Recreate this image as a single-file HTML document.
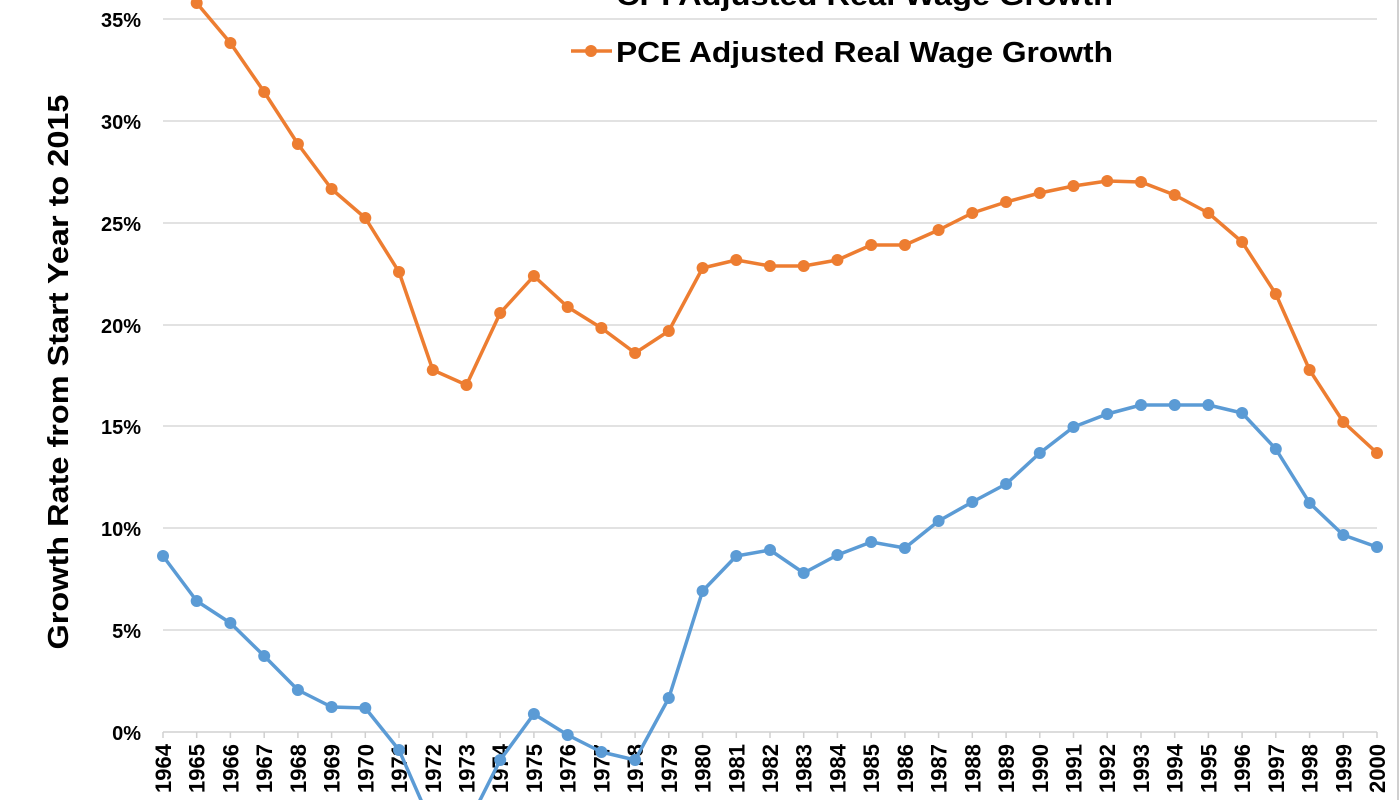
<!DOCTYPE html>
<html><head><meta charset="utf-8"><style>
html,body{margin:0;padding:0;background:#fff;width:1400px;height:800px;overflow:hidden}
text{font-family:"Liberation Sans",Arial,sans-serif;font-weight:bold;fill:#000}
</style></head><body>
<svg width="1400" height="800" viewBox="0 0 1400 800" xmlns="http://www.w3.org/2000/svg">
<rect x="0" y="0" width="1400" height="800" fill="#fff"/>
<line x1="1398" y1="0" x2="1398" y2="800" stroke="#d0d0d0" stroke-width="2"/>
<g stroke="#d9d9d9" stroke-width="1.5">
<line x1="163" y1="19" x2="1377" y2="19"/>
<line x1="163" y1="121" x2="1377" y2="121"/>
<line x1="163" y1="223" x2="1377" y2="223"/>
<line x1="163" y1="325" x2="1377" y2="325"/>
<line x1="163" y1="426" x2="1377" y2="426"/>
<line x1="163" y1="528" x2="1377" y2="528"/>
<line x1="163" y1="630" x2="1377" y2="630"/>
</g>
<g font-size="20" text-anchor="end">
<text x="141" y="27">35%</text>
<text x="141" y="129">30%</text>
<text x="141" y="231">25%</text>
<text x="141" y="333">20%</text>
<text x="141" y="434">15%</text>
<text x="141" y="536">10%</text>
<text x="141" y="638">5%</text>
<text x="141" y="740">0%</text>
</g>
<text transform="translate(68,372) rotate(-90)" font-size="29" text-anchor="middle" textLength="555" lengthAdjust="spacingAndGlyphs">Growth Rate from Start Year to 2015</text>
<line x1="163" y1="732" x2="1377" y2="732" stroke="#d0d0d0" stroke-width="1.5"/>
<g stroke="#d0d0d0" stroke-width="1.5">
<path d="M163 732v6M196.7 732v6M230.4 732v6M264.2 732v6M297.9 732v6M331.6 732v6M365.3 732v6M399 732v6M432.8 732v6M466.5 732v6M500.2 732v6M533.9 732v6M567.7 732v6M601.4 732v6M635.1 732v6M668.8 732v6M702.6 732v6M736.3 732v6M770 732v6M803.7 732v6M837.4 732v6M871.2 732v6M904.9 732v6M938.6 732v6M972.3 732v6M1006.1 732v6M1039.8 732v6M1073.5 732v6M1107.2 732v6M1141 732v6M1174.7 732v6M1208.4 732v6M1242.1 732v6M1275.8 732v6M1309.6 732v6M1343.3 732v6M1377 732v6"/>
</g>
<g font-size="22" text-anchor="end">
<text transform="translate(171,744) rotate(-90)">1964</text>
<text transform="translate(204.7,744) rotate(-90)">1965</text>
<text transform="translate(238.4,744) rotate(-90)">1966</text>
<text transform="translate(272.2,744) rotate(-90)">1967</text>
<text transform="translate(305.9,744) rotate(-90)">1968</text>
<text transform="translate(339.6,744) rotate(-90)">1969</text>
<text transform="translate(373.3,744) rotate(-90)">1970</text>
<text transform="translate(407,744) rotate(-90)">1971</text>
<text transform="translate(440.8,744) rotate(-90)">1972</text>
<text transform="translate(474.5,744) rotate(-90)">1973</text>
<text transform="translate(508.2,744) rotate(-90)">1974</text>
<text transform="translate(541.9,744) rotate(-90)">1975</text>
<text transform="translate(575.7,744) rotate(-90)">1976</text>
<text transform="translate(609.4,744) rotate(-90)">1977</text>
<text transform="translate(643.1,744) rotate(-90)">1978</text>
<text transform="translate(676.8,744) rotate(-90)">1979</text>
<text transform="translate(710.6,744) rotate(-90)">1980</text>
<text transform="translate(744.3,744) rotate(-90)">1981</text>
<text transform="translate(778,744) rotate(-90)">1982</text>
<text transform="translate(811.7,744) rotate(-90)">1983</text>
<text transform="translate(845.4,744) rotate(-90)">1984</text>
<text transform="translate(879.2,744) rotate(-90)">1985</text>
<text transform="translate(912.9,744) rotate(-90)">1986</text>
<text transform="translate(946.6,744) rotate(-90)">1987</text>
<text transform="translate(980.3,744) rotate(-90)">1988</text>
<text transform="translate(1014.1,744) rotate(-90)">1989</text>
<text transform="translate(1047.8,744) rotate(-90)">1990</text>
<text transform="translate(1081.5,744) rotate(-90)">1991</text>
<text transform="translate(1115.2,744) rotate(-90)">1992</text>
<text transform="translate(1149,744) rotate(-90)">1993</text>
<text transform="translate(1182.7,744) rotate(-90)">1994</text>
<text transform="translate(1216.4,744) rotate(-90)">1995</text>
<text transform="translate(1250.1,744) rotate(-90)">1996</text>
<text transform="translate(1283.8,744) rotate(-90)">1997</text>
<text transform="translate(1317.6,744) rotate(-90)">1998</text>
<text transform="translate(1351.3,744) rotate(-90)">1999</text>
<text transform="translate(1385,744) rotate(-90)">2000</text>
</g>
<g id="orange" stroke="#ed7d31" fill="#ed7d31">
<polyline fill="none" stroke-width="3.5" stroke-linejoin="round" points="163,-30 196.7,3 230.4,43 264.2,92 297.9,144 331.6,189 365.3,218 399,272 432.8,370 466.5,385 500.2,313 533.9,276 567.7,307 601.4,328 635.1,353 668.8,331 702.6,268 736.3,260 770,266 803.7,266 837.4,260 871.2,245 904.9,245 938.6,230 972.3,213 1006.1,202 1039.8,193 1073.5,186 1107.2,181 1141,182 1174.7,195 1208.4,213 1242.1,242 1275.8,294 1309.6,370 1343.3,422 1377,453"/>
<g stroke="none">
<circle cx="196.7" cy="3" r="6"/><circle cx="230.4" cy="43" r="6"/><circle cx="264.2" cy="92" r="6"/><circle cx="297.9" cy="144" r="6"/><circle cx="331.6" cy="189" r="6"/><circle cx="365.3" cy="218" r="6"/><circle cx="399" cy="272" r="6"/><circle cx="432.8" cy="370" r="6"/><circle cx="466.5" cy="385" r="6"/><circle cx="500.2" cy="313" r="6"/><circle cx="533.9" cy="276" r="6"/><circle cx="567.7" cy="307" r="6"/><circle cx="601.4" cy="328" r="6"/><circle cx="635.1" cy="353" r="6"/><circle cx="668.8" cy="331" r="6"/><circle cx="702.6" cy="268" r="6"/><circle cx="736.3" cy="260" r="6"/><circle cx="770" cy="266" r="6"/><circle cx="803.7" cy="266" r="6"/><circle cx="837.4" cy="260" r="6"/><circle cx="871.2" cy="245" r="6"/><circle cx="904.9" cy="245" r="6"/><circle cx="938.6" cy="230" r="6"/><circle cx="972.3" cy="213" r="6"/><circle cx="1006.1" cy="202" r="6"/><circle cx="1039.8" cy="193" r="6"/><circle cx="1073.5" cy="186" r="6"/><circle cx="1107.2" cy="181" r="6"/><circle cx="1141" cy="182" r="6"/><circle cx="1174.7" cy="195" r="6"/><circle cx="1208.4" cy="213" r="6"/><circle cx="1242.1" cy="242" r="6"/><circle cx="1275.8" cy="294" r="6"/><circle cx="1309.6" cy="370" r="6"/><circle cx="1343.3" cy="422" r="6"/><circle cx="1377" cy="453" r="6"/>
</g></g>
<g id="blue" stroke="#5b9bd5" fill="#5b9bd5">
<polyline fill="none" stroke-width="3.5" stroke-linejoin="round" points="163,556 196.7,601 230.4,623 264.2,656 297.9,690 331.6,707 365.3,708 399,750 432.8,827 466.5,827 500.2,760 533.9,714 567.7,735 601.4,752 635.1,760 668.8,698 702.6,591 736.3,556 770,550 803.7,573 837.4,555 871.2,542 904.9,548 938.6,521 972.3,502 1006.1,484 1039.8,453 1073.5,427 1107.2,414 1141,405 1174.7,405 1208.4,405 1242.1,413 1275.8,449 1309.6,503 1343.3,535 1377,547"/>
<g stroke="none">
<circle cx="163" cy="556" r="6"/><circle cx="196.7" cy="601" r="6"/><circle cx="230.4" cy="623" r="6"/><circle cx="264.2" cy="656" r="6"/><circle cx="297.9" cy="690" r="6"/><circle cx="331.6" cy="707" r="6"/><circle cx="365.3" cy="708" r="6"/><circle cx="399" cy="750" r="6"/><circle cx="500.2" cy="760" r="6"/><circle cx="533.9" cy="714" r="6"/><circle cx="567.7" cy="735" r="6"/><circle cx="601.4" cy="752" r="6"/><circle cx="635.1" cy="760" r="6"/><circle cx="668.8" cy="698" r="6"/><circle cx="702.6" cy="591" r="6"/><circle cx="736.3" cy="556" r="6"/><circle cx="770" cy="550" r="6"/><circle cx="803.7" cy="573" r="6"/><circle cx="837.4" cy="555" r="6"/><circle cx="871.2" cy="542" r="6"/><circle cx="904.9" cy="548" r="6"/><circle cx="938.6" cy="521" r="6"/><circle cx="972.3" cy="502" r="6"/><circle cx="1006.1" cy="484" r="6"/><circle cx="1039.8" cy="453" r="6"/><circle cx="1073.5" cy="427" r="6"/><circle cx="1107.2" cy="414" r="6"/><circle cx="1141" cy="405" r="6"/><circle cx="1174.7" cy="405" r="6"/><circle cx="1208.4" cy="405" r="6"/><circle cx="1242.1" cy="413" r="6"/><circle cx="1275.8" cy="449" r="6"/><circle cx="1309.6" cy="503" r="6"/><circle cx="1343.3" cy="535" r="6"/><circle cx="1377" cy="547" r="6"/>
</g></g>
<text x="616" y="5" font-size="29" textLength="497" lengthAdjust="spacingAndGlyphs">CPI Adjusted Real Wage Growth</text>
<line x1="571" y1="51" x2="612" y2="51" stroke="#ed7d31" stroke-width="3.5"/>
<circle cx="591" cy="51" r="6" fill="#ed7d31"/>
<text x="616" y="62" font-size="29" textLength="497" lengthAdjust="spacingAndGlyphs">PCE Adjusted Real Wage Growth</text>
</svg>
</body></html>
